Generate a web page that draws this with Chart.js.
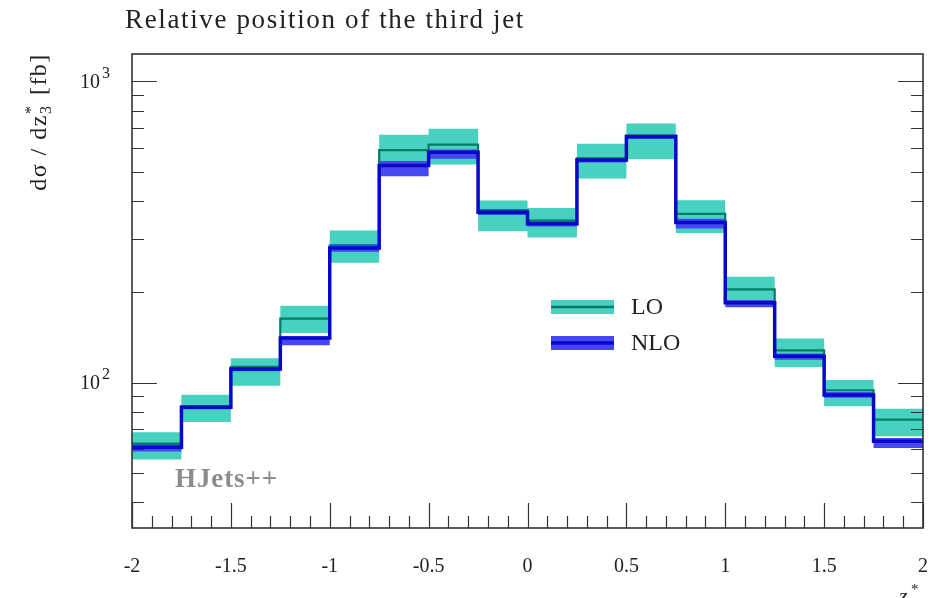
<!DOCTYPE html>
<html>
<head>
<meta charset="utf-8">
<script src="https://cdn.jsdelivr.net/npm/chart.js@4"></script>
<style>
  html, body { margin: 0; padding: 0; background: #fff; }
  #wrap { width: 941px; height: 598px; }
</style>
</head>
<body>
<div id="wrap"><canvas id="myChart" width="941" height="598"></canvas></div>
<script>
// bin edges of z*_3 and the values per bin (fb)
const binEdges = [-2, -1.75, -1.5, -1.25, -1, -0.75, -0.5, -0.25, 0, 0.25, 0.5, 0.75, 1, 1.25, 1.5, 1.75, 2];
const loValues = [62.7, 83.4, 112.8, 163, 285, 591, 617, 373, 345, 555, 662, 363, 204, 128, 94.3, 75.3];
const loLow    = [55.5, 74, 97.7, 146, 250, 544, 530, 318, 303, 476, 551, 314, 185, 112.7, 83.4, 66.4];
const loHigh   = [68.4, 91.2, 120.5, 180, 320, 665, 696, 402, 380, 621, 725, 403, 224.5, 140, 102, 81.8];
const nloValues = [61, 82.8, 111, 140.5, 280, 526, 582, 368, 337, 548, 655, 340, 184, 122.3, 91, 63.8];
const nloLow    = [59, 81.5, 109, 133, 272, 484, 554, 360, 330, 538, 645, 325, 178, 119, 89, 60.7];
const nloHigh   = [63, 84, 113, 142.5, 288, 544, 594, 376, 344, 558, 665, 350, 188, 125, 93, 65.5];

const xTickValues = [-2, -1.5, -1, -0.5, 0, 0.5, 1, 1.5, 2];
const xTickLabels = ['-2', '-1.5', '-1', '-0.5', '0', '0.5', '1', '1.5', '2'];
const yMajorTicks = [100, 1000];
const yMajorLabels = [['10', '2'], ['10', '3']];
const yMinorTicks = [40, 50, 60, 70, 80, 90, 200, 300, 400, 500, 600, 700, 800, 900];

const tealBand = 'rgb(72, 208, 192)';
const tealLine = 'rgb(0, 125, 100)';
const blueBand = 'rgb(70, 70, 242)';
const blueLine = 'rgb(8, 8, 200)';
const serif = '"Liberation Serif", "DejaVu Serif", serif';

// histogram as stepped points: one point per left edge plus the closing edge
function steps(vals) {
    const pts = vals.map((v, i) => ({ x: binEdges[i], y: v }));
    pts.push({ x: binEdges[binEdges.length - 1], y: vals[vals.length - 1] });
    return pts;
}

// draw text stretched with letter spacing so it spans a given width
function spacedText(ctx, text, x, y, width) {
    ctx.letterSpacing = '0px';
    const w = ctx.measureText(text).width;
    const sp = Math.max(0, (width - w) / text.length);
    ctx.letterSpacing = sp.toFixed(2) + 'px';
    ctx.fillText(text, x, y);
    ctx.letterSpacing = '0px';
}

const framePlugin = {
    id: 'framePlugin',
    afterDraw(chart) {
        const { ctx, chartArea: a, scales: { x, y } } = chart;
        ctx.save();

        // ticks (inside the frame)
        ctx.strokeStyle = '#333';
        ctx.lineWidth = 1.2;
        ctx.beginPath();
        for (let i = -20; i <= 20; i++) {
            const v = i / 10;
            const px = Math.round(x.getPixelForValue(v)) + 0.5;
            const len = (i % 5 === 0) ? 25 : 12;
            ctx.moveTo(px, a.bottom);
            ctx.lineTo(px, a.bottom - len);
        }
        yMajorTicks.concat(yMinorTicks).forEach(v => {
            const py = Math.round(y.getPixelForValue(v)) + 0.5;
            const len = yMajorTicks.includes(v) ? 25 : 12;
            ctx.moveTo(a.left, py);
            ctx.lineTo(a.left + len, py);
            ctx.moveTo(a.right, py);
            ctx.lineTo(a.right - len, py);
        });
        ctx.stroke();

        // frame
        ctx.lineWidth = 1.6;
        ctx.strokeStyle = '#333';
        ctx.strokeRect(a.left, a.top, a.right - a.left, a.bottom - a.top);

        ctx.fillStyle = '#222';
        // x tick labels
        ctx.font = '20px ' + serif;
        ctx.textAlign = 'center';
        ctx.textBaseline = 'middle';
        xTickValues.forEach((v, i) => {
            ctx.fillText(xTickLabels[i], x.getPixelForValue(v), 567);
        });

        // y tick labels: 10^n
        yMajorTicks.forEach((v, i) => {
            const py = y.getPixelForValue(v);
            ctx.font = '20px ' + serif;
            ctx.textAlign = 'right';
            ctx.textBaseline = 'middle';
            ctx.fillText(yMajorLabels[i][0], 100, py + 1);
            ctx.font = '16px ' + serif;
            ctx.textAlign = 'left';
            ctx.fillText(yMajorLabels[i][1], 102, py - 8);
        });

        // x axis label, cut by the bottom edge
        ctx.font = 'italic 22px ' + serif;
        ctx.textAlign = 'left';
        ctx.textBaseline = 'top';
        ctx.fillText('z', 899, 586);
        ctx.font = '15px ' + serif;
        ctx.fillText('*', 911, 583);

        // title
        ctx.font = '27px ' + serif;
        ctx.textAlign = 'left';
        ctx.textBaseline = 'middle';
        spacedText(ctx, 'Relative position of the third jet', 125, 21, 400);

        // y axis label, rotated
        ctx.save();
        ctx.translate(46, 122);
        ctx.rotate(-Math.PI / 2);
        ctx.textBaseline = 'alphabetic';
        ctx.textAlign = 'left';
        ctx.letterSpacing = '1.5px';
        const mainFont = '24px ' + serif;
        const smallFont = '16px ' + serif;
        ctx.font = mainFont;
        const w1 = ctx.measureText('dσ / dz').width;
        const w3 = ctx.measureText(' [fb]').width;
        ctx.font = smallFont;
        const w2 = Math.max(ctx.measureText('3').width, ctx.measureText('*').width) + 2;
        let sx = -(w1 + w2 + w3) / 2;
        ctx.font = mainFont;
        ctx.fillText('dσ / dz', sx, 0);
        sx += w1;
        ctx.font = smallFont;
        ctx.fillText('*', sx, -10);
        ctx.fillText('3', sx, 5);
        sx += w2;
        ctx.font = mainFont;
        ctx.fillText(' [fb]', sx, 0);
        ctx.letterSpacing = '0px';
        ctx.restore();

        // generator label
        ctx.font = 'bold 27px ' + serif;
        ctx.fillStyle = '#8c8c8c';
        ctx.textAlign = 'left';
        ctx.textBaseline = 'middle';
        spacedText(ctx, 'HJets++', 175, 480, 103);

        // legend
        const legendRows = [
            { label: 'LO', band: tealBand, line: tealLine, lw: 2.5, yc: 307 },
            { label: 'NLO', band: blueBand, line: blueLine, lw: 3.5, yc: 343 }
        ];
        legendRows.forEach(r => {
            ctx.fillStyle = r.band;
            ctx.fillRect(551, r.yc - 7, 63, 14);
            ctx.strokeStyle = r.line;
            ctx.lineWidth = r.lw;
            ctx.beginPath();
            ctx.moveTo(551, r.yc);
            ctx.lineTo(614, r.yc);
            ctx.stroke();
            ctx.fillStyle = '#222';
            ctx.font = '24px ' + serif;
            ctx.fillText(r.label, 631, r.yc + 1);
        });

        ctx.restore();
    }
};

const ctx = document.getElementById('myChart').getContext('2d');

// 'before' = horizontal run first, then the vertical jump at the next edge
const bandStyle = { pointRadius: 0, borderWidth: 0, stepped: 'before' };

const myChart = new Chart(ctx, {
    type: 'line',
    data: {
        datasets: [
            Object.assign({ label: 'LO low', data: steps(loLow), fill: false, order: 5 }, bandStyle),
            Object.assign({ label: 'LO high', data: steps(loHigh), fill: '-1', backgroundColor: tealBand, order: 5 }, bandStyle),
            Object.assign({ label: 'NLO low', data: steps(nloLow), fill: false, order: 4 }, bandStyle),
            Object.assign({ label: 'NLO high', data: steps(nloHigh), fill: '-1', backgroundColor: blueBand, order: 4 }, bandStyle),
            {
                label: 'LO', data: steps(loValues), stepped: 'before', borderColor: tealLine,
                borderWidth: 2.2, pointRadius: 0, fill: false, order: 2
            },
            {
                label: 'NLO', data: steps(nloValues), stepped: 'before', borderColor: blueLine,
                borderWidth: 3.5, pointRadius: 0, fill: false, order: 1
            }
        ]
    },
    options: {
        responsive: false,
        animation: false,
        devicePixelRatio: 1,
        layout: { padding: { left: 132, right: 18, top: 54, bottom: 70 } },
        plugins: {
            legend: { display: false },
            tooltip: { enabled: false },
            title: { display: false }
        },
        scales: {
            x: { type: 'linear', min: -2, max: 2, display: false },
            y: { type: 'logarithmic', min: 32.9, max: 1233, display: false }
        }
    },
    plugins: [framePlugin]
});
</script>
</body>
</html>
